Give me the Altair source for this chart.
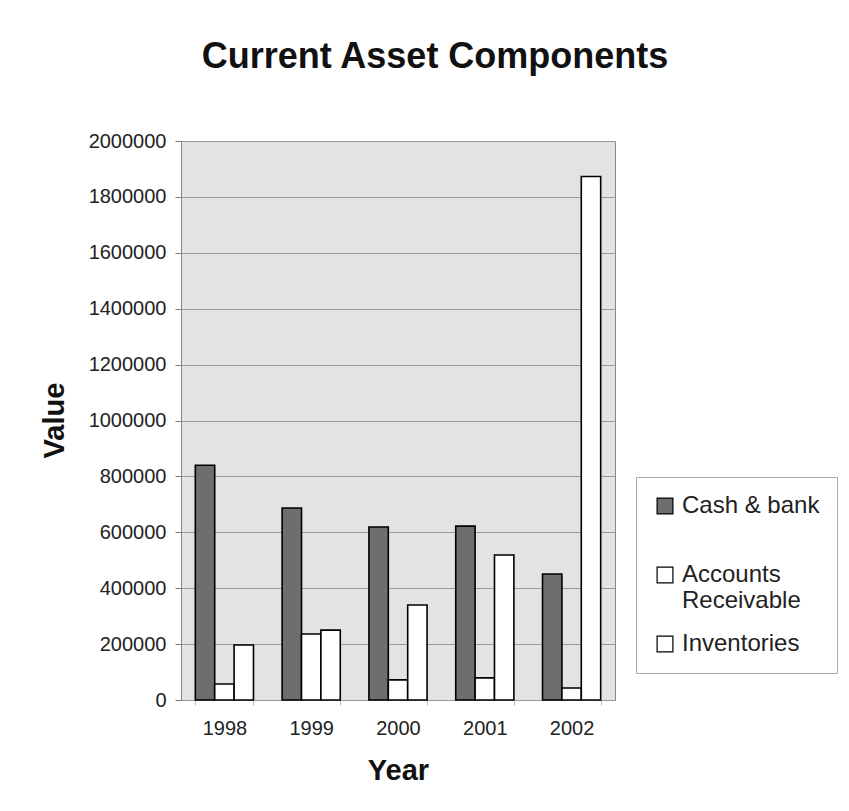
import altair as alt
import pandas as pd

years = ["1998", "1999", "2000", "2001", "2002"]
series = ["Cash & bank", "Accounts Receivable", "Inventories"]
cash_bank = [840000, 687000, 619000, 622000, 451000]
accounts_receivable = [57000, 236000, 72000, 79000, 43000]
inventories = [197000, 250000, 340000, 519000, 1873000]
y_ticks = [0, 200000, 400000, 600000, 800000, 1000000, 1200000, 1400000,
           1600000, 1800000, 2000000]

rows = []
for vals, name in zip([cash_bank, accounts_receivable, inventories], series):
    for yr, v in zip(years, vals):
        rows.append({"Year": yr, "Series": name, "Value": v,
                     "order": series.index(name)})
df = pd.DataFrame(rows)

FONT = "Liberation Sans"

chart = alt.Chart(df).mark_bar(stroke="black", strokeWidth=1.6).encode(
    x=alt.X("Year:N", sort=years,
            scale=alt.Scale(paddingInner=0.33, paddingOuter=0.165),
            axis=alt.Axis(title="Year", labelAngle=0, labelFontSize=20,
                          labelFont=FONT, labelColor="#222", labelPadding=13,
                          tickBand="extent", tickSize=5, tickColor="#bbb",
                          domain=False, titleFontSize=29, titleFont=FONT,
                          titleFontWeight="bold", titleColor="#111",
                          titleY=70, titleBaseline="middle")),
    xOffset=alt.XOffset("Series:N", sort=series,
                        scale=alt.Scale(paddingInner=0, paddingOuter=0)),
    y=alt.Y("Value:Q", scale=alt.Scale(domain=[0, 2000000], nice=False),
            axis=alt.Axis(title="Value", values=y_ticks, format="d",
                          labelFontSize=20, labelFont=FONT, labelColor="#222",
                          labelPadding=9, tickSize=6, tickColor="#777",
                          gridColor="#9a9a9a", gridWidth=1, domain=False,
                          titleFontSize=29, titleFont=FONT,
                          titleFontWeight="bold", titleColor="#111",
                          titleAngle=270, titleX=-127, titleY=279,
                          titleAlign="center", titleBaseline="middle")),
    color=alt.Color("Series:N", sort=series,
                    scale=alt.Scale(domain=series,
                                    range=["#6e6e6e", "#ffffff", "#ffffff"]),
                    legend=alt.Legend(
                        title=None, orient="none", legendX=455, legendY=336,
                        fillColor="white", strokeColor="#aaa", padding=17,
                        labelFontSize=24, labelFont=FONT, labelColor="#222",
                        labelOffset=5, symbolType="square", symbolSize=250,
                        symbolStrokeColor="black", symbolStrokeWidth=1.2,
                        rowPadding=19, labelLimit=300,
                        labelExpr="datum.label == 'Accounts Receivable' ? ['Accounts', 'Receivable'] : datum.label == 'Cash & bank' ? ['Cash & bank', ''] : datum.label")),
    order=alt.Order("order:Q"),
).properties(
    width=434, height=559,
    autosize=alt.AutoSizeParams(type="none"),
    padding={"left": 181, "top": 141, "right": 234, "bottom": 111},
    title=alt.Title("Current Asset Components", fontSize=36, font=FONT,
                    fontWeight="bold", color="#111", anchor="middle",
                    dx=37, offset=55),
).configure(
    background="white"
).configure_view(
    fill="#e3e3e3", stroke="#888", strokeWidth=1
)

chart.save("out.html", embed_options={"renderer": "svg", "actions": False})
